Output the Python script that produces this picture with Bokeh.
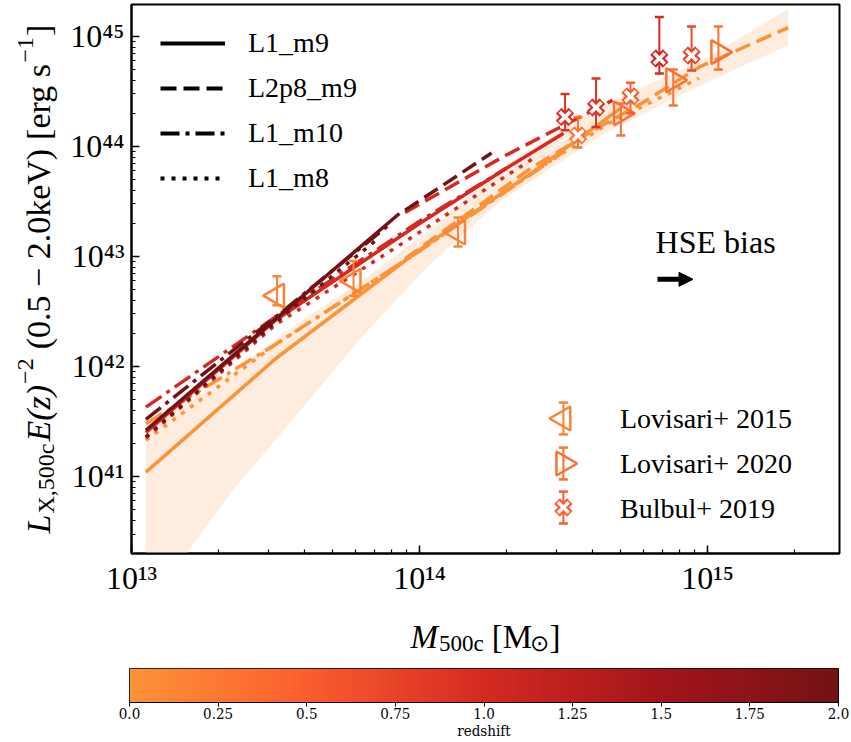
import numpy as np
from bokeh.plotting import figure
from bokeh.layouts import column, row
from bokeh.models import (Range1d, Label, Legend, LegendItem, Arrow, NormalHead,
                          CustomJSTickFormatter, FixedTicker, LinearColorMapper)
from bokeh.embed import file_html
from bokeh.resources import INLINE

SERIF = "Liberation Serif"
NAN = [float("nan")]  # placeholder data for legend-only renderers

# ---------------------------------------------------------------- colour scale
Z_STOPS = [0.0, 0.5, 1.0, 1.5, 2.0]
RGB_STOPS = [(253, 146, 56), (251, 93, 46), (212, 42, 34), (163, 21, 26), (115, 18, 20)]


def z_to_hex(z):
    rgb = [int(round(np.interp(z, Z_STOPS, [c[k] for c in RGB_STOPS]))) for k in range(3)]
    return "#%02x%02x%02x" % tuple(rgb)


PALETTE = [z_to_hex(z) for z in np.linspace(0.0, 2.0, 256)]

# ------------------------------------------- simulated relations (log10 units)
# L1_m9 (solid)
L1_m9_z0_logM = [13.05, 13.5, 14.0, 14.4, 14.7]
L1_m9_z0_logL = [41.04, 42.07, 43.06, 43.78, 44.35]
L1_m9_z1_logM = [13.05, 13.5, 14.0, 14.3, 14.5]
L1_m9_z1_logL = [41.40, 42.42, 43.30, 43.80, 44.12]
L1_m9_z2_logM = [13.05, 13.5, 13.93]
L1_m9_z2_logL = [41.42, 42.43, 43.39]
# L2p8_m9 (dashed)
L2p8_m9_z0_logM = [13.95, 14.385, 14.62, 14.77, 14.97, 15.28]
L2p8_m9_z0_logL = [42.98, 43.80, 44.17, 44.39, 44.72, 45.08]
L2p8_m9_z1_logM = [13.95, 14.3, 14.67]
L2p8_m9_z1_logL = [43.40, 43.92, 44.42]
L2p8_m9_z2_logM = [13.95, 14.25]
L2p8_m9_z2_logL = [43.42, 43.94]
# L1_m10 (dash-dot)
L1_m10_z0_logM = [13.05, 13.5, 14.0, 14.5]
L1_m10_z0_logL = [41.48, 42.20, 43.05, 43.95]
L1_m10_z1_logM = [13.05, 13.5, 14.0, 14.3]
L1_m10_z1_logL = [41.63, 42.45, 43.32, 43.80]
L1_m10_z2_logM = [13.05, 13.5, 13.9]
L1_m10_z2_logL = [41.52, 42.45, 43.30]
# L1_m8 (dotted)
L1_m8_z0_logM = [13.05, 13.5, 14.0, 14.385, 14.65, 14.97]
L1_m8_z0_logL = [41.33, 42.20, 43.05, 43.75, 44.20, 44.62]
L1_m8_z1_logM = [13.05, 13.5, 14.0, 14.4]
L1_m8_z1_logL = [41.35, 42.38, 43.22, 43.90]
L1_m8_z2_logM = [13.05, 13.5, 13.85]
L1_m8_z2_logL = [41.36, 42.40, 43.15]

LINE_REDSHIFTS = [0.0, 1.0, 2.0]

RUNS = [
    ("L1_m9", "solid",
     [(L1_m9_z0_logM, L1_m9_z0_logL), (L1_m9_z1_logM, L1_m9_z1_logL), (L1_m9_z2_logM, L1_m9_z2_logL)]),
    ("L2p8_m9", "16 7",
     [(L2p8_m9_z0_logM, L2p8_m9_z0_logL), (L2p8_m9_z1_logM, L2p8_m9_z1_logL), (L2p8_m9_z2_logM, L2p8_m9_z2_logL)]),
    ("L1_m10", "19 6 4 6",
     [(L1_m10_z0_logM, L1_m10_z0_logL), (L1_m10_z1_logM, L1_m10_z1_logL), (L1_m10_z2_logM, L1_m10_z2_logL)]),
    ("L1_m8", "4 7",
     [(L1_m8_z0_logM, L1_m8_z0_logL), (L1_m8_z1_logM, L1_m8_z1_logL), (L1_m8_z2_logM, L1_m8_z2_logL)]),
]

# scatter band of the z = 0 relation
BAND_logM = [13.05, 13.2, 13.35, 13.58, 13.8, 14.04, 14.28, 14.63, 14.98, 15.28]
BAND_lo_logL = [39.77, 40.33, 40.87, 41.58, 42.27, 42.94, 43.50, 44.10, 44.56, 44.92]
BAND_hi_logL = [41.42, 41.68, 41.95, 42.40, 42.78, 43.25, 43.80, 44.37, 44.78, 45.25]

# --------------------------------------------------------------- observations
LOV15_M = [3.2e13, 5.9e13, 1.36e14]
LOV15_L = [4.4e42, 6.0e42, 1.65e43]
LOV15_Lhi = [6.6e42, 9.1e42, 2.26e43]
LOV15_Llo = [3.6e42, 4.4e42, 1.23e43]
LOV15_z = [0.15, 0.15, 0.15]

LOV20_M = [5.0e14, 7.6e14, 1.09e15]
LOV20_L = [2.0e44, 4.0e44, 7.2e44]
LOV20_Lhi = [2.45e44, 5.0e44, 1.23e45]
LOV20_Llo = [1.26e44, 2.36e44, 5.0e44]
LOV20_z = [0.3, 0.3, 0.3]

BUL19_M = [3.2e14, 3.55e14, 4.1e14, 5.4e14, 6.8e14, 8.8e14]
BUL19_L = [1.85e44, 1.26e44, 2.26e44, 2.85e44, 6.3e44, 6.7e44]
BUL19_Lhi = [3.0e44, 1.85e44, 4.15e44, 3.8e44, 1.5e45, 1.23e45]
BUL19_Llo = [1.4e44, 9.8e43, 1.5e44, 2.0e44, 4.6e44, 4.9e44]
BUL19_z = [0.9, 0.3, 0.9, 0.5, 1.0, 0.7]

# ------------------------------------------------------------------ main plot
X_LOG = (13.0, 15.458)
Y_LOG = (40.3, 45.29)
YLAB_W = 64      # width of the strip holding the vertical axis title
MAIN_H = 600     # main figure height
XLAB_H = 66      # strip holding the horizontal axis title
CBAR_H = 742 - MAIN_H - XLAB_H

p = figure(width=851 - YLAB_W, height=MAIN_H, x_axis_type="log", y_axis_type="log",
           x_range=Range1d(10 ** X_LOG[0], 10 ** X_LOG[1]),
           y_range=Range1d(10 ** Y_LOG[0], 10 ** Y_LOG[1]),
           output_backend="svg", toolbar_location=None, frame_align=False,
           min_border_left=131 - YLAB_W, min_border_right=12, min_border_top=4,
           min_border_bottom=MAIN_H - 553)
p.grid.visible = False
p.outline_line_color = "black"
p.outline_line_width = 2
p.background_fill_color = "white"
p.border_fill_color = "white"

sup_formatter = CustomJSTickFormatter(code="""
    const sup = {'0':'\u2070','1':'\u00b9','2':'\u00b2','3':'\u00b3','4':'\u2074',
                 '5':'\u2075','6':'\u2076','7':'\u2077','8':'\u2078','9':'\u2079','-':'\u207b'};
    const e = Math.round(Math.log10(tick));
    return '10' + String(e).split('').map(c => sup[c]).join('');
""")
for ax in (p.xaxis, p.yaxis):
    ax.formatter = sup_formatter
    ax.major_label_text_font = SERIF
    ax.major_label_text_font_size = "32px"
    ax.major_label_text_color = "black"
    ax.axis_line_width = 2
    ax.axis_line_color = "black"
    ax.major_tick_in = 8
    ax.major_tick_out = 0
    ax.minor_tick_in = 4
    ax.minor_tick_out = 0
    ax.major_tick_line_width = 1.5
    ax.minor_tick_line_width = 1.2
p.xaxis.major_label_standoff = 6
p.yaxis.major_label_standoff = 7

# band
p.varea(x=[10 ** v for v in BAND_logM], y1=[10 ** v for v in BAND_lo_logL],
        y2=[10 ** v for v in BAND_hi_logL], fill_color="#feeddf")

# relations, low redshift drawn first
for iz, z in enumerate(LINE_REDSHIFTS):
    for name, dash, curves in RUNS:
        lm, ll = curves[iz]
        p.line([10 ** v for v in lm], [10 ** v for v in ll], line_color=z_to_hex(z),
               line_width=3.5, line_dash=dash)


def error_bars(M, lo, hi, colors):
    p.segment(x0=M, y0=lo, x1=M, y1=hi, line_color=colors, line_width=2)
    p.scatter(x=M, y=hi, marker="dash", size=9, line_color=colors, line_width=2.5)
    p.scatter(x=M, y=lo, marker="dash", size=9, line_color=colors, line_width=2.5)


def left_tri(M, L, colors):
    p.scatter(x=M, y=L, marker="triangle", angle=np.pi / 2, size=24,
              line_color=colors, fill_alpha=0, line_width=2.5)


def right_tri(M, L, colors):
    p.scatter(x=M, y=L, marker="triangle", angle=-np.pi / 2, size=24,
              line_color=colors, fill_alpha=0, line_width=2.5)


def cross(M, L, colors, size=18):
    p.scatter(x=M, y=L, marker="x", size=size, line_color=colors, line_width=8)
    p.scatter(x=M, y=L, marker="x", size=size - 3, line_color="white", line_width=3.5)


c15 = [z_to_hex(z) for z in LOV15_z]
c20 = [z_to_hex(z) for z in LOV20_z]
cb = [z_to_hex(z) for z in BUL19_z]

error_bars(LOV15_M, LOV15_Llo, LOV15_Lhi, c15)
left_tri(LOV15_M, LOV15_L, c15)
error_bars(LOV20_M, LOV20_Llo, LOV20_Lhi, c20)
right_tri(LOV20_M, LOV20_L, c20)
error_bars(BUL19_M, BUL19_Llo, BUL19_Lhi, cb)
cross(BUL19_M, BUL19_L, cb)

# legend for the simulation runs
run_items = []
for name, dash, _ in RUNS:
    r = p.line(NAN, NAN, line_color="black", line_width=4, line_dash=dash)
    run_items.append(LegendItem(label=name, renderers=[r]))
leg_runs = Legend(items=run_items, location=(29, 359), glyph_width=65, glyph_height=32,
                  label_height=32, spacing=13, label_standoff=23, padding=0, margin=0,
                  border_line_alpha=0, background_fill_alpha=0, label_text_color="black",
                  label_text_font=SERIF, label_text_font_size="28px")
p.add_layout(leg_runs)

# legend for the observational samples: text rows from a Legend, keys (marker with
# its error bar) drawn at fixed fractions of the plotting frame
OBS_LABELS = ["Lovisari+ 2015", "Lovisari+ 2020", "Bulbul+ 2019"]
obs_items = []
for lab in OBS_LABELS:
    ghost = p.scatter(NAN, NAN, line_alpha=0, fill_alpha=0)
    obs_items.append(LegendItem(label=lab, renderers=[ghost]))
leg_obs = Legend(items=obs_items, location=(402, 22), glyph_width=60, glyph_height=45,
                 label_height=32, spacing=0, label_standoff=27, padding=0, margin=0,
                 border_line_alpha=0, background_fill_alpha=0, label_text_color="black",
                 label_text_font=SERIF, label_text_font_size="28px")
p.add_layout(leg_obs)


def frame_point(fx, fy):
    return (10 ** (X_LOG[0] + fx * (X_LOG[1] - X_LOG[0])),
            10 ** (Y_LOG[0] + fy * (Y_LOG[1] - Y_LOG[0])))


KEY_FX = 0.61
KEY_FY = [0.2459, 0.1639, 0.0838]
KEY_BAR = 0.029  # half length of the key error bar, in frame fractions
for fy, z, draw in zip(KEY_FY, [0.15, 0.3, 0.5], [left_tri, right_tri, cross]):
    kx, ky = frame_point(KEY_FX, fy)
    _, ky_hi = frame_point(KEY_FX, fy + KEY_BAR)
    _, ky_lo = frame_point(KEY_FX, fy - KEY_BAR)
    col = [z_to_hex(z)]
    error_bars([kx], [ky_lo], [ky_hi], col)
    draw([kx], [ky], col)

# hydrostatic-bias annotation
p.add_layout(Label(x=6.6e14, y=1.35e43, text="HSE bias", text_font=SERIF, text_color="black",
                   text_font_size="32px", text_baseline="middle", text_align="left"))
p.add_layout(Arrow(x_start=6.7e14, y_start=6.2e42, x_end=8.9e14, y_end=6.2e42,
                   line_width=5, line_color="black",
                   end=NormalHead(size=14, fill_color="black", line_color="black")))

# ------------------------------------------------------ composed axis titles
ADV = {"L": 0.556, "X": 0.722, ",": 0.25, "5": 0.5, "0": 0.5, "c": 0.444, "E": 0.611,
       "(": 0.333, ")": 0.333, "z": 0.389, "\u2212": 0.564, "2": 0.5, " ": 0.25, ".": 0.25,
       "k": 0.5, "e": 0.444, "V": 0.722, "[": 0.333, "]": 0.333, "r": 0.333, "g": 0.5,
       "s": 0.389, "1": 0.5, "M": 0.833, "\u2299": 0.8}


def width(s, size):
    return sum(ADV.get(ch, 0.5) for ch in s) * size


def title_strip(w, h):
    f = figure(width=w, height=h, x_range=Range1d(0, 1), y_range=Range1d(0, 1),
               x_axis_location=None, y_axis_location=None, output_backend="svg",
               toolbar_location=None, min_border=0, frame_align=False)
    f.grid.visible = False
    f.outline_line_color = None
    return f


# vertical title, reading upwards, centred on the plotting frame
# pieces: text, font size, style, baseline shift, gap before
YBIG, YSMALL = 34, 24
ystrip = title_strip(YLAB_W, MAIN_H)
ylabel = [("L", YBIG, "italic", 0, 0), ("X,500c", YSMALL, "normal", 7, 1),
          ("E(z)", YBIG, "italic", 0, 2), ("\u22122", YSMALL, "normal", -13, 1),
          ("(0.5 \u2212 2.0keV)", YBIG, "normal", 0, 9), ("[erg s", YBIG, "normal", 0, 9),
          ("\u22121", YSMALL, "normal", -13, 1), ("]", YBIG, "normal", 0, 1)]
total = sum(width(t, s) + g for t, s, _, _, g in ylabel)
ypos = 278.5 + total / 2
for t, s, style, shift, gap in ylabel:
    ypos -= gap
    ystrip.add_layout(Label(x=38 + shift, y=MAIN_H - ypos, x_units="screen", y_units="screen",
                            text=t, angle=np.pi / 2, text_align="left", text_baseline="alphabetic",
                            text_font=SERIF, text_font_size=f"{s}px", text_font_style=style,
                            text_color="black"))
    ypos -= width(t, s)

# horizontal title under the plotting frame
XBIG, XSMALL = 33, 23
xstrip = title_strip(851, XLAB_H)
xlabel = [("M", XBIG, "italic", 0, 0), ("500c", XSMALL, "normal", 7, 1), ("[M", XBIG, "normal", 0, 8),
          ("\u2299", XSMALL, "normal", 7, 0), ("]", XBIG, "normal", 0, 1)]
total = sum(width(t, s) + g for t, s, _, _, g in xlabel)
xpos = 485 - total / 2
for t, s, style, shift, gap in xlabel:
    xpos += gap
    xstrip.add_layout(Label(x=xpos, y=XLAB_H - (36 + shift), x_units="screen", y_units="screen",
                            text=t, text_align="left", text_baseline="alphabetic",
                            text_font=SERIF, text_font_size=f"{s}px", text_font_style=style,
                            text_color="black"))
    xpos += width(t, s)

# --------------------------------------------------------------- colour bar
CBAR_TICKS = [0.0, 0.25, 0.5, 0.75, 1.0, 1.25, 1.5, 1.75, 2.0]
CB_FONT = "DejaVu Serif Condensed, Liberation Serif"
cb_fig = figure(width=851, height=CBAR_H, x_range=Range1d(0, 2), y_range=Range1d(0, 1),
                output_backend="svg", toolbar_location=None, frame_align=False,
                min_border_left=129, min_border_right=13, min_border_top=2, min_border_bottom=38)
cb_fig.grid.visible = False
cb_fig.yaxis.visible = False
cb_fig.outline_line_color = "black"
cb_fig.outline_line_width = 1
mapper = LinearColorMapper(palette=PALETTE, low=0.0, high=2.0)
cb_fig.image(image=[np.linspace(0.0, 2.0, 512)[None, :]], x=0, y=0, dw=2, dh=1, color_mapper=mapper)
xa = cb_fig.xaxis[0]
xa.ticker = FixedTicker(ticks=CBAR_TICKS)
xa.formatter = CustomJSTickFormatter(code="""
    const s = tick.toFixed(2);
    return s.endsWith('0') ? tick.toFixed(1) : s;
""")
xa.axis_label = "redshift"
xa.axis_label_text_font = CB_FONT
xa.axis_label_text_font_style = "normal"
xa.axis_label_text_font_size = "15px"
xa.axis_label_text_color = "black"
xa.axis_label_standoff = 0
xa.major_label_text_font = CB_FONT
xa.major_label_text_font_size = "15px"
xa.major_label_text_color = "black"
xa.major_label_standoff = 1
xa.major_tick_out = 4
xa.major_tick_in = 0
xa.minor_tick_out = 0
xa.axis_line_color = "black"

layout = column(row(ystrip, p), xstrip, cb_fig)
open("out.html", "w").write(file_html(layout, INLINE))
